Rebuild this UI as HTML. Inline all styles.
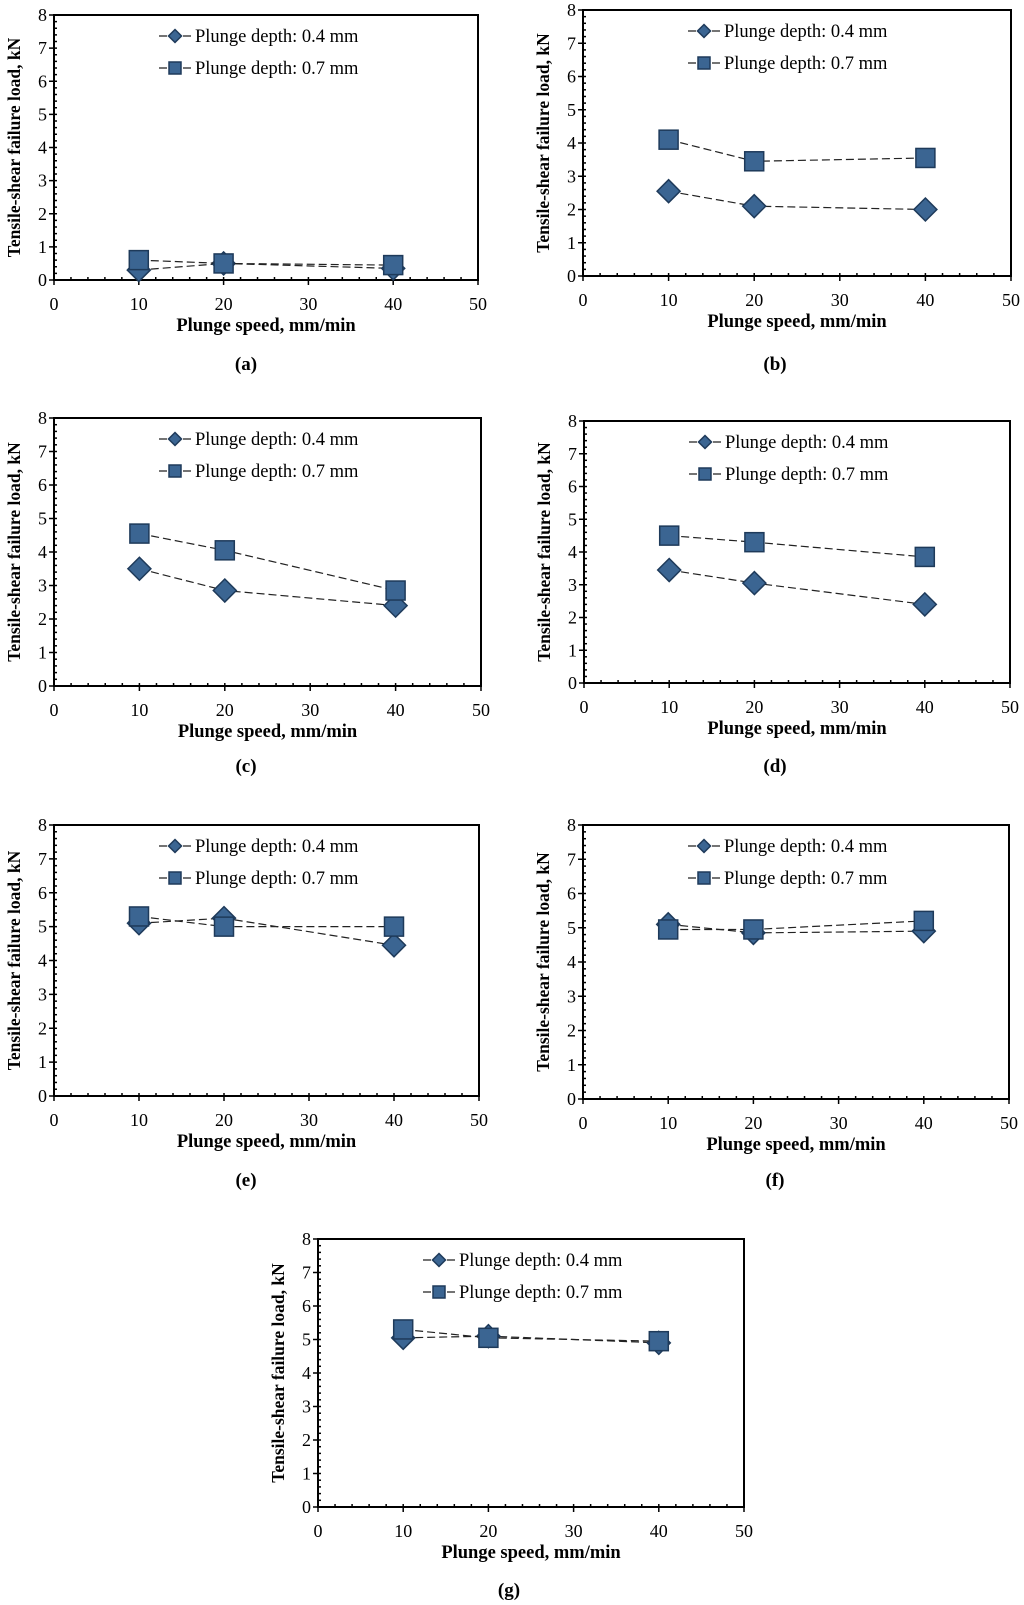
<!DOCTYPE html>
<html><head><meta charset="utf-8">
<style>
html,body{margin:0;padding:0;background:#fff;}
svg{display:block;}
text{font-family:"Liberation Serif",serif;}
</style></head>
<body>
<svg id="fig" width="1024" height="1605" viewBox="0 0 1024 1605" xmlns="http://www.w3.org/2000/svg"></svg>
<script>
const panelIds = ['a','b','c','d','e','f','g'];
const xCategories = [10, 20, 40];
const xTicks = [0, 10, 20, 30, 40, 50];
const yTicks = [0, 1, 2, 3, 4, 5, 6, 7, 8];
const seriesNames = ['Plunge depth: 0.4 mm', 'Plunge depth: 0.7 mm'];
const depth04 = {
  a: [0.3, 0.5, 0.35],
  b: [2.55, 2.1, 2.0],
  c: [3.5, 2.85, 2.4],
  d: [3.45, 3.05, 2.4],
  e: [5.1, 5.25, 4.45],
  f: [5.1, 4.85, 4.9],
  g: [5.05, 5.1, 4.9]
};
const depth07 = {
  a: [0.6, 0.5, 0.45],
  b: [4.1, 3.45, 3.55],
  c: [4.55, 4.05, 2.85],
  d: [4.5, 4.3, 3.85],
  e: [5.3, 5.0, 5.0],
  f: [4.95, 4.95, 5.2],
  g: [5.3, 5.05, 4.95]
};
// layout (not data): left, top, right, bottom, captionY, captionX
const boxes = {
  a: [54, 15, 478, 280, 370, 246],
  b: [583, 10, 1011, 276, 370, 775],
  c: [54, 418, 481, 686, 772, 246],
  d: [584, 421, 1010, 683, 772, 775],
  e: [54, 825, 479, 1096, 1186, 246],
  f: [583, 825, 1009, 1099, 1186, 775],
  g: [318, 1239, 744, 1507, 1596, 509]
};
const NS = 'http://www.w3.org/2000/svg';
const svg = document.getElementById('fig');
function mk(tag, attrs, parent, txt) {
  const e = document.createElementNS(NS, tag);
  for (const k in attrs) e.setAttribute(k, attrs[k]);
  if (txt !== undefined) e.textContent = txt;
  parent.appendChild(e);
  return e;
}
const FILL = '#3b6592', EDGE = '#1e3a5a';
function square(g, x, y, s) {
  return mk('rect', {x: x - s/2, y: y - s/2, width: s, height: s, fill: FILL, stroke: EDGE, 'stroke-width': 1.5}, g);
}
function diamond(g, x, y, s) {
  const h = s/2;
  return mk('polygon', {points: `${x},${y-h} ${x+h},${y} ${x},${y+h} ${x-h},${y}`, fill: FILL, stroke: EDGE, 'stroke-width': 1.5}, g);
}
panelIds.forEach(id => {
  const [L, T, R, B, capY, capX] = boxes[id];
  const g = mk('g', {}, svg);
  
  
  const xs = v => L + (v - 0) / 50 * (R - L);
  const ys = v => B - v / 8 * (B - T);
  const frame = mk('rect', {x: L, y: T, width: R - L, height: B - T, fill: 'none', stroke: '#000', 'stroke-width': 2}, g);
  
  
  for (let v = 0; v <= 8.001; v += 0.2) {
    mk('line', {x1: L, x2: L + 3, y1: ys(v), y2: ys(v), stroke: '#000', 'stroke-width': 1.5}, g);
  }
  for (let v = 0; v <= 50; v += 2) {
    mk('line', {x1: xs(v), x2: xs(v), y1: B, y2: B - 3, stroke: '#000', 'stroke-width': 1.5}, g);
  }
  const yAxis = mk('g', {}, g);
  
  
  yTicks.forEach(v => {
    mk('line', {x1: L - 5, x2: L, y1: ys(v), y2: ys(v), stroke: '#000', 'stroke-width': 1.5}, yAxis);
    const t = mk('text', {x: L - 7, y: ys(v) + 6, 'text-anchor': 'end', 'font-size': 18}, yAxis, String(v));
    
    
  });
  const xAxis = mk('g', {}, g);
  
  
  xTicks.forEach(v => {
    mk('line', {x1: xs(v), x2: xs(v), y1: B, y2: B + 5, stroke: '#000', 'stroke-width': 1.5}, xAxis);
    const t = mk('text', {x: xs(v), y: B + 30, 'text-anchor': 'middle', 'font-size': 18}, xAxis, String(v));
    
    
  });
  const xt = mk('text', {x: (L + R) / 2, y: B + 51, 'text-anchor': 'middle', 'font-size': 18.5, 'font-weight': 'bold'}, g, 'Plunge speed, mm/min');
  
  
  const yt = mk('text', {x: 0, y: 0, 'text-anchor': 'middle', 'font-size': 17.5, 'font-weight': 'bold', transform: `translate(${L - 34},${(T + B) / 2}) rotate(-90)`}, g, 'Tensile-shear failure load, kN');
  
  
  const all = [depth04[id], depth07[id]];
  all.forEach((vals, si) => {
    const sg = mk('g', {}, g);
    
    
    const pts = vals.map((v, i) => xs(xCategories[i]) + ',' + ys(v)).join(' ');
    mk('polyline', {points: pts, fill: 'none', stroke: '#222', 'stroke-width': 1.2, 'stroke-dasharray': '8 4'}, sg);
    vals.forEach((v, i) => {
      const m = si === 0 ? diamond(sg, xs(xCategories[i]), ys(v), 23) : square(sg, xs(xCategories[i]), ys(v), 19);
      
      
    });
  });
  const lg = mk('g', {}, g);
  
  
  seriesNames.forEach((n, si) => {
    const ly = T + 21 + si * 32;
    const lx = L + 121;
    const e = mk('g', {}, lg);
    
    
    mk('line', {x1: lx - 16, x2: lx + 16, y1: ly, y2: ly, stroke: '#222', 'stroke-width': 1.2, 'stroke-dasharray': '8 4'}, e);
    if (si === 0) diamond(e, lx, ly, 13); else square(e, lx, ly, 12);
    mk('text', {x: lx + 20, y: ly + 6, 'font-size': 18.5}, e, n);
  });
  const cap = mk('text', {x: capX, y: capY, 'text-anchor': 'middle', 'font-size': 19, 'font-weight': 'bold'}, g, '(' + id + ')');
  
  
});
</script>
</body></html>
